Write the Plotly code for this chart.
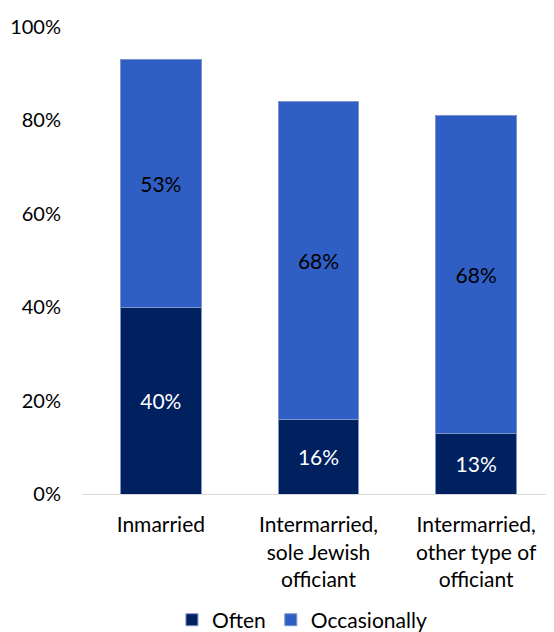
import plotly.graph_objects as go

categories = ["Inmarried", "Intermarried,<br>sole Jewish<br>officiant", "Intermarried,<br>other type of<br>officiant"]
often = [40, 16, 13]
occasionally = [53, 68, 68]
tick_vals = [0, 20, 40, 60, 80, 100]
tick_text = ["0%", "20%", "40%", "60%", "80%", "100%"]

FONT = "Lato, 'Open Sans', sans-serif"

fig = go.Figure()
fig.add_trace(go.Bar(
    x=categories, y=often, name="Often",
    marker=dict(color="#002060", line=dict(color="#7f95c9", width=1)),
    text=[f"{v}%" for v in often], textposition="inside", insidetextanchor="middle",
    textfont=dict(color="white", size=21, family=FONT),
))
fig.add_trace(go.Bar(
    x=categories, y=occasionally, name="Occasionally",
    marker=dict(color="#2f5fc4", line=dict(color="#7f95c9", width=1)),
    text=[f"{v}%" for v in occasionally], textposition="inside", insidetextanchor="middle",
    textfont=dict(color="black", size=21, family=FONT),
))
fig.update_layout(
    barmode="stack",
    bargap=0.49,
    width=554, height=632,
    margin=dict(l=74, r=7, t=19, b=146, autoexpand=False),
    paper_bgcolor="white", plot_bgcolor="white",
    font=dict(family=FONT, size=20, color="black"),
    showlegend=True,
    legend=dict(orientation="h", x=0.465, xanchor="center", y=-0.27, yanchor="middle",
                font=dict(size=21), traceorder="normal", itemwidth=30,
                tracegroupgap=0),
    uniformtext=dict(minsize=10, mode="show"),
)
fig.update_yaxes(range=[0, 100], tickvals=tick_vals, ticktext=tick_text,
                 showgrid=False, zeroline=False, showline=False,
                 ticks="", ticklabelstandoff=20, tickfont=dict(size=20))
fig.update_xaxes(showline=True, linecolor="#d9d9d9", linewidth=1, ticks="",
                 tickfont=dict(size=21), ticklabelstandoff=12)
fig.write_html("out.html")
